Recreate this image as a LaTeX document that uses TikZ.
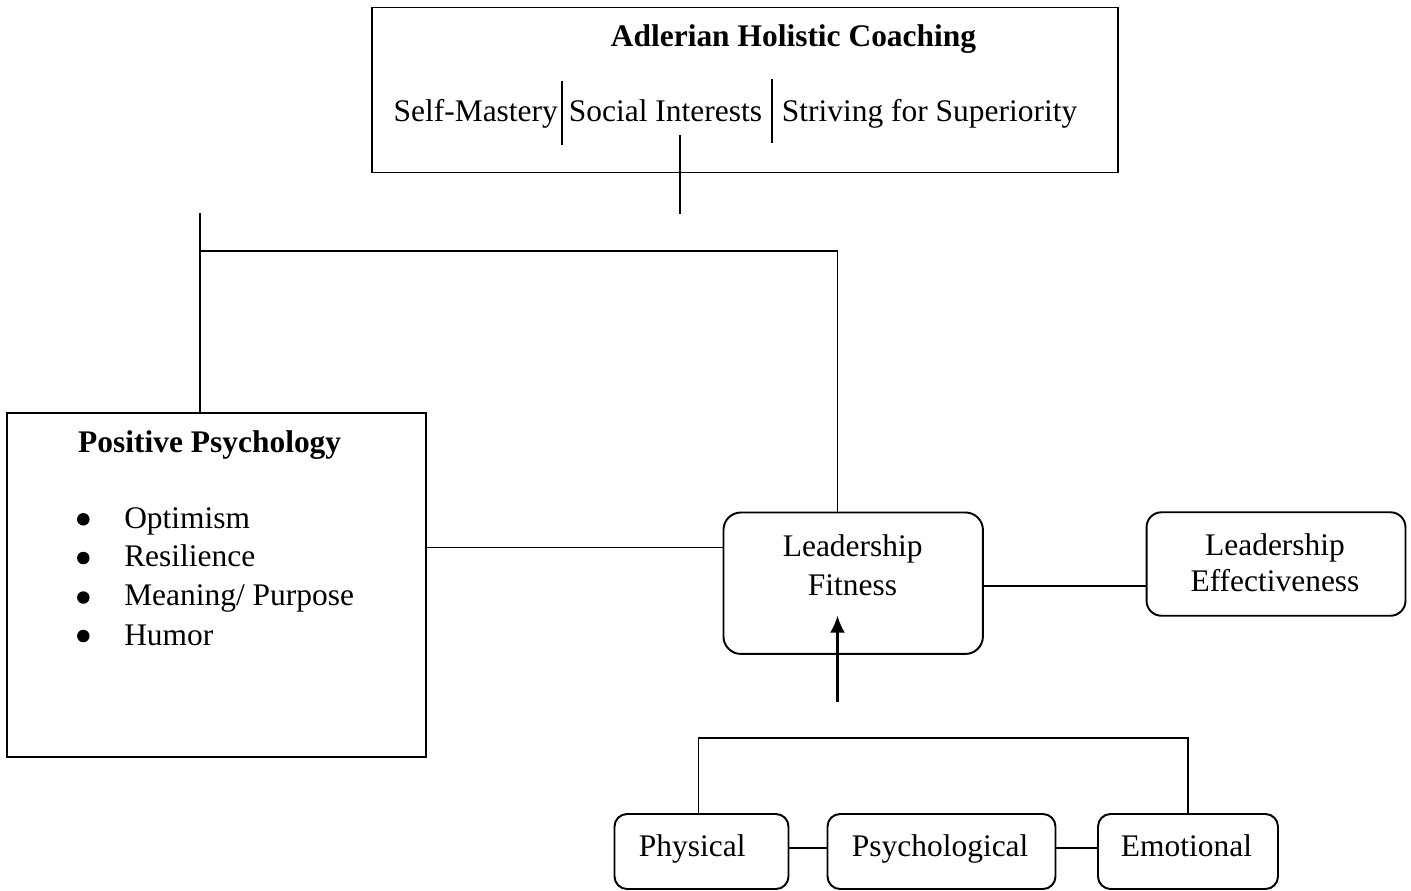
\documentclass[tikz,border=0pt]{standalone}
\usepackage{fontspec}
\setmainfont{Liberation Serif}
\usetikzlibrary{arrows.meta}
\begin{document}
\begin{tikzpicture}[x=0.02cm, y=-0.02cm, line width=1.1pt,
    font=\fontsize{17.9}{21.5}\selectfont,
    box/.style={draw, inner sep=0pt},
    rbox/.style={box, rounded corners=0.35cm},
    sbox/.style={box, rounded corners=0.25cm, minimum height=1.5cm},
    txt/.style={inner sep=0pt, anchor=base},
    ltxt/.style={inner sep=0pt, anchor=base west},
    bul/.style={circle, fill, inner sep=0pt, minimum size=0.25cm}]
    \useasboundingbox (0,0) rectangle (1411,890);
    % Adlerian box
    \node[box, minimum width=14.92cm, minimum height=3.3cm] (ahc) at (745,90) {};
    \node[txt, font=\fontsize{17.9}{21.5}\selectfont\bfseries] (ahctitle) at (793.5,46.7) {Adlerian Holistic Coaching};
    \node[ltxt] (selfm) at (392.7,121.5) {Self-Mastery};
    \node[ltxt] (socint) at (568,121.5) {Social Interests};
    \node[ltxt] (striv) at (781,121.5) {Striving for Superiority};
    \draw (561.7,80.7) -- (561.7,145.3);
    \draw (772,79) -- (772,143);
    \coordinate (ahcdrop) at (680,135);
    \coordinate (ahcend) at (680,214);
    \draw (ahcdrop) -- (ahcend);
    % Positive Psychology box
    \node[box, minimum width=8.37cm, minimum height=6.89cm] (pp) at (216.5,585.2) {};
    \node[txt, font=\fontsize{17.9}{21.5}\selectfont\bfseries] (pptitle) at (209.7,452.7) {Positive Psychology};
    \node[bul] (bul1) at (83.3,519.3) {};
    \node[bul] (bul2) at (83.3,558) {};
    \node[bul] (bul3) at (83.3,597.5) {};
    \node[bul] (bul4) at (83.3,636) {};
    \node[ltxt] (optim) at (123.3,528.3) {Optimism};
    \node[ltxt] (resil) at (123.3,566.9) {Resilience};
    \node[ltxt] (meaning) at (123.3,605.7) {Meaning/ Purpose};
    \node[ltxt] (humor) at (123.3,645) {Humor};
    % Leadership boxes
    \node[rbox, minimum width=5.19cm, minimum height=2.83cm] (lf) at (853.2,583.2) {};
    \node[txt] (lftop) at (852.7,556.7) {Leadership};
    \node[txt] (lfbot) at (852.5,595.7) {Fitness};
    \node[rbox, rounded corners=0.3cm, minimum width=5.18cm, minimum height=2.07cm] (le) at (1276,564) {};
    \node[txt] (letop) at (1275,555.5) {Leadership};
    \node[txt] (lebot) at (1275,591) {Effectiveness};
    % fitness components
    \node[sbox, minimum width=3.48cm] (phy) at (701.5,851.5) {};
    \node[sbox, minimum width=4.56cm] (psy) at (941.5,851.5) {};
    \node[sbox, minimum width=3.6cm] (emo) at (1188,851.5) {};
    \node[ltxt] (phytxt) at (638,856) {Physical};
    \node[ltxt] (psytxt) at (851,856) {Psychological};
    \node[ltxt] (emotxt) at (1120,856) {Emotional};
    % connectors
    \coordinate (ppup) at (200.3,213.3);
    \coordinate (split) at (200.3,251.3);
    \coordinate (fitx) at (837.5,251.3);
    \draw (ppup) -- (ppup |- pp.north);
    \draw (split) -- (fitx) -- (fitx |- lf.north);
    \coordinate (pplink) at (0,547.5);
    \draw (pp.east |- pplink) -- (lf.west |- pplink);
    \coordinate (lelink) at (0,585.7);
    \draw (lf.east |- lelink) -- (le.west |- lelink);
    \coordinate (arrbase) at (837.5,701.7);
    \coordinate (arrtip) at (837.5,615.7);
    \draw[line width=1.3pt, -{Latex[length=0.34cm, width=0.3cm]}] (arrbase) -- (arrtip);
    \draw ([xshift=-0.06cm]phy.north) -- ++(0,-75) -| (emo.north);
    \coordinate (botlink) at (0,847.7);
    \draw (phy.east |- botlink) -- (psy.west |- botlink);
    \draw (psy.east |- botlink) -- (emo.west |- botlink);
\end{tikzpicture}
\end{document}
